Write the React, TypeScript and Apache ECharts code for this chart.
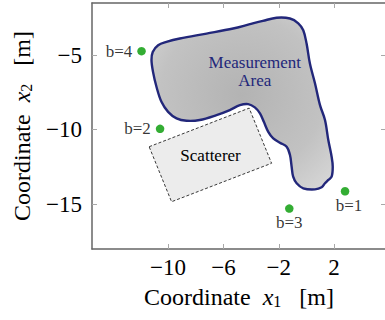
import React, { useEffect, useRef } from "react";
import * as echarts from "echarts";

// axis ranges and ticks
const xRange = [-15.5, 5.75];
const yRange = [-18, -1.5];
const xTicks = [-10, -6, -2, 2];
const yTicks = [-5, -10, -15];

// measurement area outline (clockwise)
const areaX = [
  -11.2, -11.11, -10.72, -10.12, -9.15, -7.22, -5.3, -4.09, -3.15, -2.16,
  -1.19, -0.59, -0.23, 0.01, 0.25, 0.62, 0.98, 1.34, 1.58, 1.82,
  1.9, 1.82, 1.58, 1.34, 1.1, 0.62, -0.23, -0.71, -0.96, -1.07,
  -1.19, -1.43, -1.92, -2.4, -2.76, -3.08, -3.36, -3.73, -4.21, -4.81,
  -5.54, -6.5, -7.71, -8.67, -9.39, -10.0, -10.48, -10.84, -11.09,
];
const areaY = [
  -5.33, -4.78, -4.33, -4.11, -3.88, -3.55, -3.21, -2.92, -2.7, -2.49,
  -2.54, -2.86, -3.33, -4.22, -5.56, -6.9, -8.35, -9.35, -10.69, -11.81,
  -12.48, -13.15, -13.37, -13.59, -13.86, -14.0, -13.93, -13.59, -13.15, -12.48,
  -11.7, -11.14, -10.87, -10.58, -10.14, -9.47, -8.9, -8.5, -8.28, -8.35,
  -8.68, -9.02, -9.35, -9.4, -9.24, -8.8, -8.13, -7.12, -6.12,
];
const areaLabelLines = ["Measurement", "Area"];
const areaLabelAt = [-3.73, -6.07];

// scatterer rectangle corners
const scattererX = [-11.37, -4.14, -2.52, -9.75];
const scattererY = [-11.14, -8.55, -12.25, -14.83];
const scattererLabel = "Scatterer";
const scattererLabelAt = [-6.93, -11.76];

// sensors
const sensorNames = ["b=1", "b=2", "b=3", "b=4"];
const sensorX = [2.79, -10.58, -1.24, -11.92];
const sensorY = [-14.13, -9.94, -15.29, -4.73];
const sensorLabelSide = ["bottom", "left", "bottom", "left"];

const SERIF = "Liberation Serif, serif";
const NAVY = "#22277a";
const fmt = (v: number) => (v < 0 ? "\u2212" + Math.abs(v) : String(v));

const nameStyle = {
  fontFamily: SERIF,
  fontSize: 24,
  color: "#000",
  rich: {
    t: { fontFamily: SERIF, fontSize: 24, color: "#000" },
    i: { fontFamily: SERIF, fontSize: 24, fontStyle: "italic", color: "#000" },
    s: { fontFamily: SERIF, fontSize: 16, color: "#000", verticalAlign: "bottom", lineHeight: 10 },
  },
};

const frameLine = { show: true, onZero: false, lineStyle: { color: "#666666", width: 1.5 } };
const tickStyle = { show: true, inside: true, length: 5, lineStyle: { color: "#a8a8a8", width: 1 } };

export default function App() {
  const ref = useRef<HTMLDivElement>(null);
  useEffect(() => {
    if (!ref.current) return;
    const chart = echarts.init(ref.current, null, { renderer: "svg" });
    const option: any = {
      animation: false,
      grid: { left: 92, top: 3, right: -1, bottom: 71, outerBoundsMode: "none", containLabel: false },
      xAxis: [
        {
          type: "value",
          position: "bottom",
          min: xRange[0],
          max: xRange[1],
          axisLine: frameLine,
          axisTick: { ...tickStyle, customValues: xTicks },
          axisLabel: {
            customValues: xTicks,
            formatter: fmt,
            fontFamily: SERIF,
            fontSize: 23,
            color: "#000",
            margin: 7,
          },
          splitLine: { show: false },
          name: "{t|Coordinate}  {i|x}{s|1}   {t|[m]}",
          nameLocation: "middle",
          nameGap: 36,
          nameTextStyle: nameStyle,
        },
        {
          type: "value",
          position: "top",
          min: xRange[0],
          max: xRange[1],
          axisLine: frameLine,
          axisTick: { ...tickStyle, customValues: xTicks },
          axisLabel: { show: false },
          splitLine: { show: false },
        },
      ],
      yAxis: [
        {
          type: "value",
          position: "left",
          min: yRange[0],
          max: yRange[1],
          axisLine: frameLine,
          axisTick: { ...tickStyle, customValues: yTicks },
          axisLabel: {
            customValues: yTicks,
            formatter: fmt,
            fontFamily: SERIF,
            fontSize: 23,
            color: "#000",
            margin: 10,
          },
          splitLine: { show: false },
          name: "{t|Coordinate}  {i|x}{s|2}   {t|[m]}",
          nameLocation: "middle",
          nameGap: 58,
          nameTextStyle: nameStyle,
        },
        {
          type: "value",
          position: "right",
          min: yRange[0],
          max: yRange[1],
          axisLine: frameLine,
          axisTick: { ...tickStyle, customValues: yTicks },
          axisLabel: { show: false },
          splitLine: { show: false },
        },
      ],
      series: [
        {
          type: "custom",
          xAxisIndex: 0,
          yAxisIndex: 0,
          data: [[0, 0]],
          silent: true,
          z: 2,
          renderItem: (_params: any, api: any) => {
            const pts = areaX.map((x, i) => api.coord([x, areaY[i]]));
            const lab = api.coord(areaLabelAt);
            return {
              type: "group",
              children: [
                {
                  type: "polygon",
                  shape: { points: pts, smooth: 0.35 },
                  style: {
                    fill: new echarts.graphic.RadialGradient(0.5, 0.45, 0.75, [
                      { offset: 0, color: "#b3b3b3" },
                      { offset: 0.6, color: "#c2c2c2" },
                      { offset: 1, color: "#dadada" },
                    ]),
                    stroke: NAVY,
                    lineWidth: 2.4,
                  },
                },
                ...areaLabelLines.map((t, k) => ({
                  type: "text",
                  x: lab[0],
                  y: lab[1] + (k - 0.5) * 18,
                  style: {
                    text: t,
                    fill: NAVY,
                    fontFamily: SERIF,
                    fontSize: 17,
                    align: "center",
                    verticalAlign: "middle",
                  },
                })),
              ],
            };
          },
        },
        {
          type: "custom",
          xAxisIndex: 0,
          yAxisIndex: 0,
          data: [[0, 0]],
          silent: true,
          z: 3,
          renderItem: (_params: any, api: any) => {
            const pts = scattererX.map((x, i) => api.coord([x, scattererY[i]]));
            const lab = api.coord(scattererLabelAt);
            return {
              type: "group",
              children: [
                {
                  type: "polygon",
                  shape: { points: pts },
                  style: { fill: "#ececec", stroke: "#222", lineWidth: 0.9, lineDash: [3, 2] },
                },
                {
                  type: "text",
                  x: lab[0],
                  y: lab[1],
                  style: {
                    text: scattererLabel,
                    fill: "#000",
                    fontFamily: SERIF,
                    fontSize: 17,
                    align: "center",
                    verticalAlign: "middle",
                  },
                },
              ],
            };
          },
        },
        {
          type: "scatter",
          xAxisIndex: 0,
          yAxisIndex: 0,
          z: 4,
          symbolSize: 8.5,
          itemStyle: { color: "#009900" },
          data: sensorNames.map((n, i) => ({
            name: n,
            value: [sensorX[i], sensorY[i]],
            label: {
              show: true,
              position: sensorLabelSide[i],
              distance: sensorLabelSide[i] === "bottom" ? 1 : 5,
              offset: i === 0 ? [4, 0] : [0, 0],
            },
          })),
          label: {
            show: true,
            formatter: (p: any) => p.name,
            fontFamily: SERIF,
            fontSize: 17,
            color: "#000",
          },
        },
      ],
    };
    chart.setOption(option);
    return () => chart.dispose();
  }, []);
  return (
    <div
      ref={ref}
      style={{ position: "absolute", left: 0, top: 0, width: 385, height: 320, background: "#fff" }}
    />
  );
}
